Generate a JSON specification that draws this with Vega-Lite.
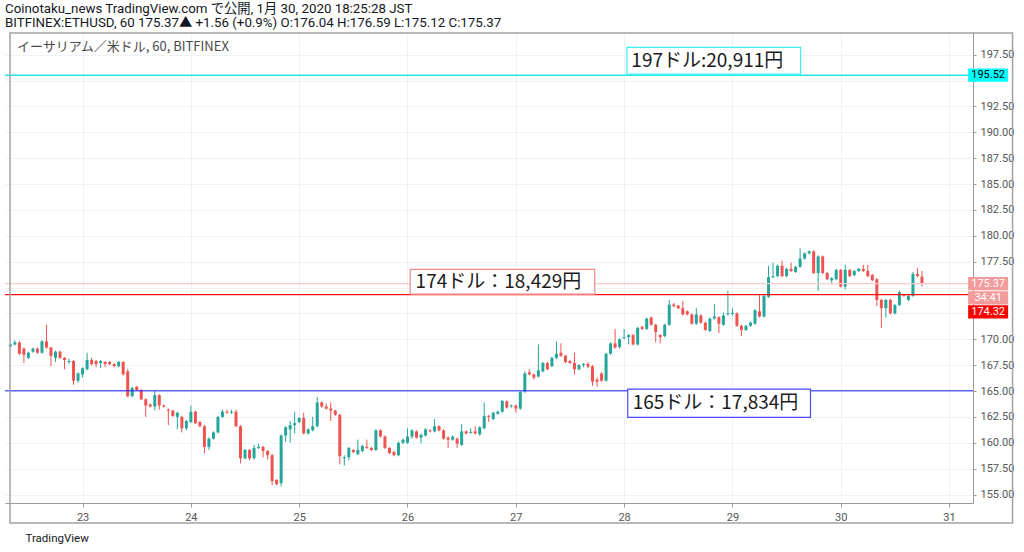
{
  "$schema": "https://vega.github.io/schema/vega-lite/v6.json",
  "width": 968,
  "height": 470,
  "autosize": {"type": "none"},
  "padding": {"left": 5, "top": 33, "right": 51, "bottom": 49},
  "background": "white",
  "config": {"view": {"stroke": null}, "font": "Roboto"},
  "title": {
    "text": ["Coinotaku_news TradingView.com で公開, 1月 30, 2020 18:25:28 JST", "BITFINEX:ETHUSD, 60 175.37▲ +1.56 (+0.9%) O:176.04 H:176.59 L:175.12 C:175.37"],
    "anchor": "start", "frame": "group", "font": "Roboto, Noto Sans CJK JP", "fontSize": 13.3, "fontWeight": "normal",
    "color": "#131722", "lineHeight": 14, "offset": 3
  },
  "resolve": {"axis": {"x": "independent", "y": "independent"}},
  "datasets": {
    "candles": [
      {"t":8,"o":169.3,"h":169.6,"l":169.2,"c":169.5},{"t":9,"o":169.5,"h":169.9,"l":169.4,"c":169.7},
      {"t":10,"o":169.7,"h":169.8,"l":168.5,"c":168.6},{"t":11,"o":169.1,"h":169.2,"l":167.7,"c":168.5},
      {"t":12,"o":168.2,"h":168.8,"l":168.1,"c":168.7},{"t":13,"o":168.8,"h":169.2,"l":168.7,"c":169.1},
      {"t":14,"o":169.1,"h":169.2,"l":168.6,"c":168.7},{"t":15,"o":168.7,"h":169.9,"l":168.6,"c":169.8},
      {"t":16,"o":169.8,"h":171.4,"l":169.1,"c":169.2},{"t":17,"o":169.2,"h":169.3,"l":167.4,"c":168.4},
      {"t":18,"o":168.2,"h":168.9,"l":167.8,"c":168.8},{"t":19,"o":168.8,"h":168.9,"l":168.1,"c":168.2},
      {"t":20,"o":168.2,"h":168.3,"l":167.1,"c":168.0},{"t":21,"o":167.8,"h":168.1,"l":167.6,"c":167.9},
      {"t":22,"o":167.9,"h":168.0,"l":165.6,"c":166.0},{"t":23,"o":166.0,"h":166.8,"l":165.8,"c":166.7},
      {"t":24,"o":166.6,"h":167.3,"l":166.3,"c":167.2},{"t":25,"o":167.1,"h":168.7,"l":167.0,"c":168.0},
      {"t":26,"o":168.0,"h":168.2,"l":167.5,"c":167.6},{"t":27,"o":167.9,"h":168.0,"l":167.3,"c":167.6},
      {"t":28,"o":167.7,"h":168.0,"l":167.2,"c":167.9},{"t":29,"o":167.8,"h":167.9,"l":167.3,"c":167.6},
      {"t":30,"o":167.8,"h":167.9,"l":167.5,"c":167.6},{"t":31,"o":167.6,"h":167.7,"l":167.3,"c":167.4},
      {"t":32,"o":167.4,"h":167.9,"l":167.3,"c":167.8},{"t":33,"o":167.8,"h":167.9,"l":166.5,"c":166.6},
      {"t":34,"o":166.9,"h":167.1,"l":164.4,"c":164.5},{"t":35,"o":164.5,"h":165.4,"l":164.4,"c":165.3},
      {"t":36,"o":165.4,"h":165.5,"l":165.0,"c":165.1},{"t":37,"o":165.1,"h":165.2,"l":164.1,"c":164.2},
      {"t":38,"o":164.2,"h":164.3,"l":162.5,"c":163.6},{"t":39,"o":163.7,"h":163.8,"l":163.4,"c":163.5},
      {"t":40,"o":163.5,"h":165.0,"l":163.1,"c":164.6},{"t":41,"o":164.6,"h":164.7,"l":163.2,"c":163.6},
      {"t":42,"o":163.6,"h":163.7,"l":163.4,"c":163.5},{"t":43,"o":163.2,"h":163.3,"l":161.7,"c":163.1},
      {"t":44,"o":163.1,"h":163.2,"l":162.5,"c":162.6},{"t":45,"o":162.5,"h":163.0,"l":161.3,"c":162.9},
      {"t":46,"o":162.5,"h":162.6,"l":161.0,"c":161.4},{"t":47,"o":161.4,"h":162.2,"l":161.2,"c":162.1},
      {"t":48,"o":162.0,"h":163.6,"l":161.9,"c":163.0},{"t":49,"o":163.0,"h":163.1,"l":161.8,"c":161.9},
      {"t":50,"o":162.0,"h":162.1,"l":161.5,"c":161.6},{"t":51,"o":161.6,"h":161.7,"l":159.0,"c":159.6},
      {"t":52,"o":159.6,"h":160.5,"l":159.3,"c":160.4},{"t":53,"o":160.4,"h":161.1,"l":160.3,"c":161.0},
      {"t":54,"o":161.0,"h":162.6,"l":160.9,"c":162.5},{"t":55,"o":162.5,"h":163.2,"l":162.4,"c":163.0},
      {"t":56,"o":163.0,"h":163.2,"l":162.8,"c":162.9},{"t":57,"o":162.9,"h":163.2,"l":162.8,"c":163.0},
      {"t":58,"o":163.0,"h":163.2,"l":161.5,"c":161.6},{"t":59,"o":161.6,"h":161.7,"l":158.0,"c":158.5},
      {"t":60,"o":158.5,"h":159.4,"l":158.4,"c":159.3},{"t":61,"o":159.3,"h":159.4,"l":158.3,"c":158.5},
      {"t":62,"o":158.5,"h":159.8,"l":158.4,"c":159.5},{"t":63,"o":159.5,"h":159.9,"l":159.4,"c":159.6},
      {"t":64,"o":159.6,"h":159.7,"l":158.6,"c":159.2},{"t":65,"o":159.2,"h":159.3,"l":158.4,"c":158.8},
      {"t":66,"o":158.8,"h":158.9,"l":155.9,"c":156.3},{"t":67,"o":156.4,"h":156.5,"l":155.9,"c":156.0},
      {"t":68,"o":156.1,"h":160.8,"l":155.8,"c":160.7},{"t":69,"o":160.7,"h":161.6,"l":160.1,"c":161.5},
      {"t":70,"o":161.3,"h":162.1,"l":160.0,"c":161.7},{"t":71,"o":161.7,"h":163.0,"l":160.9,"c":161.9},
      {"t":72,"o":162.0,"h":162.5,"l":161.9,"c":162.4},{"t":73,"o":162.4,"h":162.9,"l":160.8,"c":160.9},
      {"t":74,"o":160.9,"h":161.4,"l":160.8,"c":161.3},{"t":75,"o":161.2,"h":162.5,"l":161.1,"c":161.6},
      {"t":76,"o":161.6,"h":164.4,"l":161.5,"c":163.9},{"t":77,"o":163.9,"h":164.0,"l":163.4,"c":163.5},
      {"t":78,"o":163.5,"h":163.8,"l":163.2,"c":163.3},{"t":79,"o":163.3,"h":163.9,"l":162.1,"c":163.1},
      {"t":80,"o":163.1,"h":163.2,"l":162.6,"c":162.7},{"t":81,"o":162.7,"h":162.8,"l":157.9,"c":158.7},
      {"t":82,"o":158.5,"h":158.8,"l":157.8,"c":158.6},{"t":83,"o":158.6,"h":159.6,"l":158.3,"c":159.5},
      {"t":84,"o":159.3,"h":159.4,"l":159.0,"c":159.1},{"t":85,"o":158.9,"h":160.3,"l":158.8,"c":159.3},
      {"t":86,"o":159.2,"h":159.8,"l":159.1,"c":159.7},{"t":87,"o":159.6,"h":160.3,"l":159.4,"c":159.5},
      {"t":88,"o":159.5,"h":159.6,"l":159.2,"c":159.3},{"t":89,"o":159.3,"h":161.3,"l":159.2,"c":161.2},
      {"t":90,"o":161.2,"h":161.3,"l":160.5,"c":160.6},{"t":91,"o":160.6,"h":160.7,"l":159.4,"c":159.5},
      {"t":92,"o":159.5,"h":159.6,"l":158.9,"c":159.0},{"t":93,"o":159.1,"h":159.2,"l":158.7,"c":158.8},
      {"t":94,"o":158.8,"h":160.1,"l":158.7,"c":160.0},{"t":95,"o":160.0,"h":160.4,"l":159.9,"c":160.3},
      {"t":96,"o":160.0,"h":161.4,"l":159.9,"c":160.6},{"t":97,"o":160.6,"h":161.3,"l":160.4,"c":161.2},
      {"t":98,"o":161.1,"h":161.2,"l":160.4,"c":160.5},{"t":99,"o":160.5,"h":160.9,"l":159.95,"c":160.75},
      {"t":100,"o":160.7,"h":161.4,"l":160.6,"c":161.3},{"t":101,"o":161.2,"h":161.3,"l":161.0,"c":161.1},
      {"t":102,"o":161.1,"h":162.3,"l":161.0,"c":161.6},{"t":103,"o":161.6,"h":161.7,"l":161.1,"c":161.2},
      {"t":104,"o":161.2,"h":161.3,"l":160.3,"c":160.4},{"t":105,"o":160.5,"h":160.6,"l":159.5,"c":160.3},
      {"t":106,"o":160.3,"h":160.7,"l":160.2,"c":160.6},{"t":107,"o":160.4,"h":160.5,"l":159.5,"c":159.9},
      {"t":108,"o":159.8,"h":161.8,"l":159.7,"c":161.1},{"t":109,"o":161.1,"h":161.2,"l":160.8,"c":160.9},
      {"t":110,"o":160.95,"h":161.4,"l":160.9,"c":161.05},{"t":111,"o":161.1,"h":161.6,"l":160.8,"c":160.9},
      {"t":112,"o":160.8,"h":161.6,"l":160.7,"c":161.5},{"t":113,"o":161.4,"h":163.9,"l":161.3,"c":162.6},
      {"t":114,"o":162.6,"h":162.7,"l":162.0,"c":162.5},{"t":115,"o":162.3,"h":163.0,"l":162.2,"c":162.9},
      {"t":116,"o":162.8,"h":163.1,"l":162.7,"c":163.0},{"t":117,"o":163.0,"h":164.1,"l":162.9,"c":164.05},
      {"t":118,"o":164.0,"h":164.1,"l":163.3,"c":163.4},{"t":119,"o":163.5,"h":163.7,"l":163.4,"c":163.6},
      {"t":120,"o":163.6,"h":163.7,"l":162.9,"c":163.3},{"t":121,"o":163.3,"h":165.0,"l":163.2,"c":164.9},
      {"t":122,"o":164.95,"h":166.9,"l":164.8,"c":166.7},{"t":123,"o":166.8,"h":167.1,"l":166.5,"c":166.6},
      {"t":124,"o":166.6,"h":166.7,"l":166.1,"c":166.3},{"t":125,"o":166.4,"h":169.5,"l":166.3,"c":167.0},
      {"t":126,"o":166.9,"h":167.8,"l":166.8,"c":167.7},{"t":127,"o":167.7,"h":167.8,"l":167.0,"c":167.1},
      {"t":128,"o":167.4,"h":168.3,"l":167.3,"c":168.2},{"t":129,"o":168.2,"h":169.8,"l":168.1,"c":168.6},
      {"t":130,"o":168.7,"h":169.6,"l":168.3,"c":168.4},{"t":131,"o":168.4,"h":168.5,"l":167.7,"c":167.8},
      {"t":132,"o":167.9,"h":168.0,"l":167.6,"c":167.7},{"t":133,"o":167.7,"h":168.7,"l":166.6,"c":167.1},
      {"t":134,"o":167.1,"h":167.6,"l":167.0,"c":167.5},{"t":135,"o":167.5,"h":167.7,"l":167.3,"c":167.6},
      {"t":136,"o":167.6,"h":167.8,"l":167.2,"c":167.35},{"t":137,"o":167.4,"h":167.5,"l":165.5,"c":165.9},
      {"t":138,"o":166.1,"h":166.3,"l":165.4,"c":165.9},{"t":139,"o":166.7,"h":166.8,"l":165.9,"c":166.0},
      {"t":140,"o":166.0,"h":168.7,"l":165.9,"c":168.6},{"t":141,"o":168.6,"h":169.7,"l":168.5,"c":169.6},
      {"t":142,"o":169.6,"h":171.0,"l":169.1,"c":169.2},{"t":143,"o":169.25,"h":170.1,"l":169.1,"c":170.0},
      {"t":144,"o":170.1,"h":171.0,"l":170.0,"c":170.2},{"t":145,"o":170.2,"h":170.5,"l":169.5,"c":170.4},
      {"t":146,"o":170.4,"h":170.5,"l":169.4,"c":169.5},{"t":147,"o":169.5,"h":171.2,"l":169.4,"c":171.1},
      {"t":148,"o":171.2,"h":171.3,"l":170.9,"c":171.0},{"t":149,"o":171.0,"h":172.1,"l":170.9,"c":172.0},
      {"t":150,"o":172.1,"h":172.2,"l":171.3,"c":171.4},{"t":151,"o":171.4,"h":171.5,"l":169.7,"c":170.7},
      {"t":152,"o":170.4,"h":170.5,"l":169.6,"c":170.2},{"t":153,"o":170.3,"h":171.5,"l":170.2,"c":171.4},
      {"t":154,"o":171.4,"h":173.8,"l":171.3,"c":173.35},{"t":155,"o":173.35,"h":173.5,"l":173.1,"c":173.2},
      {"t":156,"o":173.25,"h":173.3,"l":172.9,"c":173.0},{"t":157,"o":173.0,"h":173.7,"l":172.3,"c":172.4},
      {"t":158,"o":172.7,"h":172.8,"l":172.3,"c":172.4},{"t":159,"o":172.4,"h":172.5,"l":171.4,"c":171.5},
      {"t":160,"o":171.5,"h":173.0,"l":171.4,"c":172.4},{"t":161,"o":172.3,"h":172.4,"l":171.5,"c":171.6},
      {"t":162,"o":171.6,"h":171.7,"l":170.8,"c":170.9},{"t":163,"o":170.8,"h":172.1,"l":170.7,"c":172.0},
      {"t":164,"o":172.0,"h":173.4,"l":171.9,"c":172.2},{"t":165,"o":172.15,"h":172.2,"l":170.6,"c":171.5},
      {"t":166,"o":171.4,"h":172.6,"l":171.3,"c":172.3},{"t":167,"o":172.4,"h":174.7,"l":172.3,"c":172.5},
      {"t":168,"o":172.45,"h":173.0,"l":172.3,"c":172.55},{"t":169,"o":172.5,"h":172.6,"l":171.2,"c":171.3},
      {"t":170,"o":171.3,"h":171.4,"l":170.3,"c":170.9},{"t":171,"o":170.9,"h":171.4,"l":170.8,"c":171.3},
      {"t":172,"o":171.3,"h":171.7,"l":171.2,"c":171.6},{"t":173,"o":171.5,"h":172.9,"l":171.4,"c":172.8},
      {"t":174,"o":172.7,"h":174.3,"l":172.1,"c":172.2},{"t":175,"o":172.2,"h":174.3,"l":172.1,"c":174.2},
      {"t":176,"o":174.1,"h":177.1,"l":174.0,"c":176.0},{"t":177,"o":176.0,"h":177.4,"l":175.9,"c":176.1},
      {"t":178,"o":176.1,"h":177.2,"l":176.0,"c":177.1},{"t":179,"o":177.1,"h":177.6,"l":176.0,"c":176.1},
      {"t":180,"o":176.1,"h":176.9,"l":176.0,"c":176.8},{"t":181,"o":176.8,"h":177.4,"l":176.5,"c":176.6},
      {"t":182,"o":176.5,"h":177.1,"l":176.4,"c":177.0},{"t":183,"o":177.0,"h":178.8,"l":176.9,"c":177.8},
      {"t":184,"o":177.8,"h":178.4,"l":177.7,"c":178.3},{"t":185,"o":178.3,"h":178.6,"l":178.2,"c":178.5},
      {"t":186,"o":178.5,"h":178.6,"l":176.3,"c":176.4},{"t":187,"o":176.4,"h":178.1,"l":174.7,"c":178.0},
      {"t":188,"o":178.0,"h":178.1,"l":176.3,"c":176.4},{"t":189,"o":176.4,"h":176.5,"l":175.7,"c":175.8},
      {"t":190,"o":175.7,"h":176.0,"l":175.3,"c":175.9},{"t":191,"o":175.8,"h":176.8,"l":175.7,"c":176.7},
      {"t":192,"o":176.7,"h":176.8,"l":175.0,"c":175.1},{"t":193,"o":175.1,"h":177.2,"l":174.8,"c":176.7},
      {"t":194,"o":176.7,"h":176.8,"l":176.0,"c":176.1},{"t":195,"o":176.2,"h":176.7,"l":176.1,"c":176.6},
      {"t":196,"o":176.6,"h":176.9,"l":176.5,"c":176.8},{"t":197,"o":176.8,"h":177.2,"l":176.5,"c":176.6},
      {"t":198,"o":176.6,"h":177.2,"l":176.0,"c":176.1},{"t":199,"o":176.2,"h":176.3,"l":175.6,"c":175.7},
      {"t":200,"o":175.8,"h":175.9,"l":173.2,"c":173.8},{"t":201,"o":173.8,"h":173.9,"l":171.1,"c":173.0},
      {"t":202,"o":173.0,"h":173.9,"l":172.1,"c":173.8},{"t":203,"o":173.8,"h":173.9,"l":172.4,"c":172.5},
      {"t":204,"o":172.5,"h":173.4,"l":172.4,"c":173.3},{"t":205,"o":173.3,"h":174.7,"l":173.2,"c":174.55},
      {"t":206,"o":174.3,"h":174.4,"l":174.1,"c":174.2},{"t":207,"o":173.8,"h":174.3,"l":173.7,"c":174.2},
      {"t":208,"o":174.2,"h":176.5,"l":174.1,"c":176.3},{"t":209,"o":176.3,"h":176.9,"l":176.0,"c":176.1},
      {"t":210,"o":176.04,"h":176.59,"l":175.12,"c":175.37}
    ],
    "levels": [
      {"id": "cyan", "p": 195.52},
      {"id": "last", "p": 175.37},
      {"id": "red", "p": 174.32},
      {"id": "blue", "p": 165.02}
    ],
    "boxes": [
      {"id": "cyan", "x1": 144.6, "x2": 183.1, "y1": 195.62, "y2": 198.21, "tx": 145.6, "ty": 196.9, "label": "197ドル:20,911円"},
      {"id": "red", "x1": 96.6, "x2": 137.5, "y1": 174.36, "y2": 176.76, "tx": 97.8, "ty": 175.55, "label": "174ドル：18,429円"},
      {"id": "blue", "x1": 144.8, "x2": 185.3, "y1": 162.46, "y2": 165.19, "tx": 145.9, "ty": 163.84, "label": "165ドル：17,834円"}
    ],
    "tags": [
      {"id": "cyan", "p": 195.52, "label": "195.52"},
      {"id": "last", "p": 175.37, "label": "175.37"},
      {"id": "timer", "p": 173.99, "label": "34:41"},
      {"id": "red", "p": 172.64, "label": "174.32"}
    ]
  },
  "layer": [
    {
      "data": {"name": "candles"},
      "mark": {"type": "rule", "strokeWidth": 1, "clip": true},
      "encoding": {
        "x": {
          "field": "t", "type": "quantitative",
          "scale": {"domain": [7.92, 220.2], "nice": false, "zero": false},
          "axis": {
            "values": [24, 48, 72, 96, 120, 144, 168, 192, 216],
            "labelExpr": "datum.value / 24 + 22",
            "grid": true, "gridColor": "#eef2f7", "domainColor": "#9a9a9a", "tickColor": "#9a9a9a",
            "tickSize": 4, "labelColor": "#555555", "labelFontSize": 11, "labelPadding": 4, "labelFont": "Roboto",
            "title": "TradingView", "titleAnchor": "start", "titleAlign": "left", "titleX": 20, "titleY": 35,
            "titleBaseline": "middle", "titleFontSize": 11.5, "titleFontWeight": "normal", "titleColor": "#131722", "titleFont": "Roboto"
          }
        },
        "y": {
          "field": "l", "type": "quantitative",
          "scale": {"domain": [154.18, 199.59], "nice": false, "zero": false},
          "axis": {
            "orient": "right",
            "values": [155, 157.5, 160, 162.5, 165, 167.5, 170, 172.5, 175, 177.5, 180, 182.5, 185, 187.5, 190, 192.5, 195, 197.5],
            "format": ".2f", "labelOverlap": false,
            "labelExpr": "datum.value == 195 || datum.value == 175 || datum.value == 172.5 ? '' : datum.label",
            "grid": true, "gridColor": "#eef2f7", "domainColor": "#9a9a9a", "tickColor": "#9a9a9a",
            "tickSize": 3, "labelColor": "#555555", "labelFontSize": 11, "labelPadding": 4, "labelFont": "Roboto", "title": null
          }
        },
        "y2": {"field": "h"},
        "color": {"condition": {"test": "datum.c >= datum.o", "value": "#26a69a"}, "value": "#ef5350"}
      }
    },
    {
      "data": {"name": "candles"},
      "mark": {"type": "bar", "size": 3, "clip": true},
      "encoding": {
        "x": {"field": "t", "type": "quantitative", "scale": {"domain": [7.92, 220.2], "nice": false, "zero": false}, "axis": null},
        "y": {"field": "o", "type": "quantitative", "scale": {"domain": [154.18, 199.59], "nice": false, "zero": false}, "axis": null},
        "y2": {"field": "c"},
        "color": {"condition": {"test": "datum.c >= datum.o", "value": "#26a69a"}, "value": "#ef5350"}
      }
    },
    {
      "data": {"name": "levels"},
      "mark": {"type": "rule"},
      "encoding": {
        "y": {"field": "p", "type": "quantitative", "scale": {"domain": [154.18, 199.59], "nice": false, "zero": false}, "axis": null},
        "color": {"field": "id", "type": "nominal", "scale": {"domain": ["cyan", "last", "red", "blue"], "range": ["#1ee8e8", "#f8cccc", "#ff1010", "#1a1aff"]}, "legend": null},
        "strokeWidth": {"field": "id", "type": "ordinal", "scale": {"domain": ["cyan", "last", "red", "blue"], "range": [1.5, 1, 2, 2]}, "legend": null}
      }
    },
    {
      "data": {"name": "boxes"},
      "mark": {"type": "rect", "fill": "white", "strokeWidth": 1.2, "clip": false},
      "encoding": {
        "x": {"field": "x1", "type": "quantitative", "scale": {"domain": [7.92, 220.2], "nice": false, "zero": false}, "axis": null},
        "x2": {"field": "x2"},
        "y": {"field": "y1", "type": "quantitative", "scale": {"domain": [154.18, 199.59], "nice": false, "zero": false}, "axis": null},
        "y2": {"field": "y2"},
        "stroke": {"field": "id", "type": "nominal", "scale": {"domain": ["cyan", "red", "blue"], "range": ["#3ff0f0", "#f08a8a", "#4a4aff"]}, "legend": null}
      }
    },
    {
      "data": {"name": "boxes"},
      "mark": {"type": "text", "align": "left", "baseline": "middle", "font": "Noto Sans CJK JP", "fontSize": 19, "color": "#1a1a1a", "clip": false},
      "encoding": {
        "x": {"field": "tx", "type": "quantitative", "scale": {"domain": [7.92, 220.2], "nice": false, "zero": false}, "axis": null},
        "y": {"field": "ty", "type": "quantitative", "scale": {"domain": [154.18, 199.59], "nice": false, "zero": false}, "axis": null},
        "text": {"field": "label"}
      }
    },
    {
      "data": {"name": "tags"},
      "mark": {"type": "point", "shape": "M-1,-0.33H1V0.33H-1Z", "filled": true, "size": 1600, "opacity": 1, "strokeWidth": 0, "clip": false},
      "encoding": {
        "x": {"datum": 224.66, "type": "quantitative", "scale": {"domain": [7.92, 220.2], "nice": false, "zero": false}, "axis": null},
        "y": {"field": "p", "type": "quantitative", "scale": {"domain": [154.18, 199.59], "nice": false, "zero": false}, "axis": null},
        "fill": {"field": "id", "type": "nominal", "scale": {"domain": ["cyan", "last", "timer", "red"], "range": ["#00ffff", "#f39a9a", "#f39a9a", "#ff0000"]}, "legend": null}
      }
    },
    {
      "data": {"name": "tags"},
      "mark": {"type": "text", "align": "center", "baseline": "middle", "font": "Roboto", "fontSize": 11, "clip": false},
      "encoding": {
        "x": {"datum": 224.66, "type": "quantitative", "scale": {"domain": [7.92, 220.2], "nice": false, "zero": false}, "axis": null},
        "y": {"field": "p", "type": "quantitative", "scale": {"domain": [154.18, 199.59], "nice": false, "zero": false}, "axis": null},
        "text": {"field": "label"},
        "color": {"condition": {"test": "datum.id == 'cyan'", "value": "#000000"}, "value": "#ffffff"}
      }
    },
    {
      "data": {"values": [{}]},
      "mark": {"type": "rect", "fill": null, "stroke": "#a3a3a3", "strokeWidth": 1.5, "clip": false},
      "encoding": {
        "x": {"datum": 7.92, "type": "quantitative", "scale": {"domain": [7.92, 220.2], "nice": false, "zero": false}, "axis": null},
        "x2": {"datum": 230.07},
        "y": {"datum": 152.25, "type": "quantitative", "scale": {"domain": [154.18, 199.59], "nice": false, "zero": false}, "axis": null},
        "y2": {"datum": 199.59}
      }
    },
    {
      "data": {"values": [{}]},
      "mark": {"type": "text", "align": "left", "baseline": "middle", "font": "Noto Sans CJK JP", "fontSize": 13, "color": "#4a4a4a", "text": "イーサリアム／米ドル, 60, BITFINEX", "clip": false},
      "encoding": {
        "x": {"datum": 9.45, "type": "quantitative", "scale": {"domain": [7.92, 220.2], "nice": false, "zero": false}, "axis": null},
        "y": {"datum": 198.24, "type": "quantitative", "scale": {"domain": [154.18, 199.59], "nice": false, "zero": false}, "axis": null}
      }
    }
  ]
}
